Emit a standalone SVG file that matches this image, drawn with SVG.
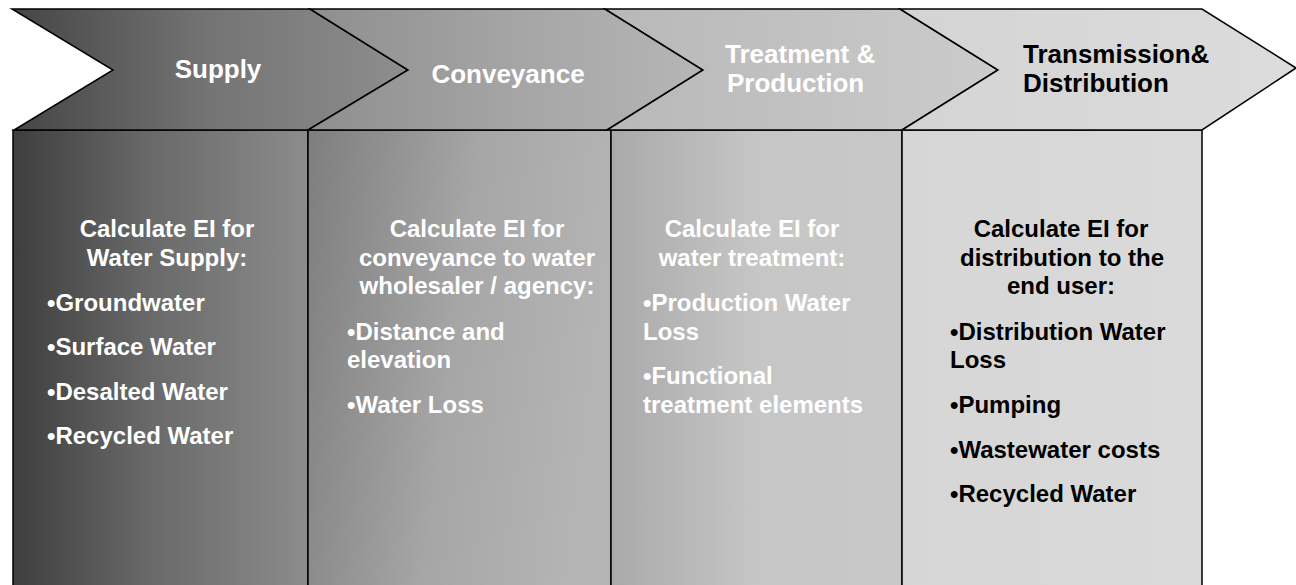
<svg xmlns="http://www.w3.org/2000/svg" width="1296" height="585" viewBox="0 0 1296 585">
  <defs>
    <linearGradient id="gc1" x1="0" y1="0" x2="1" y2="0">
      <stop offset="0" stop-color="#3e3e3e"/>
      <stop offset="0.45" stop-color="#686868"/>
      <stop offset="1" stop-color="#8c8c8c"/>
    </linearGradient>
    <linearGradient id="gc2" x1="0" y1="0" x2="1" y2="0.2">
      <stop offset="0" stop-color="#7e7e7e"/>
      <stop offset="0.55" stop-color="#a6a6a6"/>
      <stop offset="1" stop-color="#b4b4b4"/>
    </linearGradient>
    <linearGradient id="gc3" x1="0" y1="0" x2="1" y2="0">
      <stop offset="0" stop-color="#a9a9a9"/>
      <stop offset="0.5" stop-color="#c6c6c6"/>
      <stop offset="1" stop-color="#c8c8c8"/>
    </linearGradient>
    <linearGradient id="gc4" x1="0" y1="0" x2="1" y2="0">
      <stop offset="0" stop-color="#d6d6d6"/>
      <stop offset="1" stop-color="#dadada"/>
    </linearGradient>
    <linearGradient id="gh1" x1="0" y1="0" x2="1" y2="0">
      <stop offset="0" stop-color="#454545"/>
      <stop offset="0.5" stop-color="#747474"/>
      <stop offset="1" stop-color="#8e8e8e"/>
    </linearGradient>
    <linearGradient id="gh2" x1="0" y1="0" x2="1" y2="0">
      <stop offset="0" stop-color="#8e8e8e"/>
      <stop offset="0.5" stop-color="#a4a4a4"/>
      <stop offset="1" stop-color="#b6b6b6"/>
    </linearGradient>
    <linearGradient id="gh3" x1="0" y1="0" x2="1" y2="0">
      <stop offset="0" stop-color="#b8b8b8"/>
      <stop offset="1" stop-color="#cbcbcb"/>
    </linearGradient>
    <linearGradient id="gh4" x1="0" y1="0" x2="1" y2="0">
      <stop offset="0" stop-color="#d4d4d4"/>
      <stop offset="1" stop-color="#dcdcdc"/>
    </linearGradient>
  </defs>
  <style>
    .shape { stroke: #000; stroke-width: 1.5; stroke-linejoin: miter; }
    .t { font-family: "Liberation Sans", Arial, Helvetica, sans-serif; font-weight: bold; }
    .head { font-size: 26px; }
    .body { font-size: 24px; }
    .w { fill: #ffffff; }
    .k { fill: #000000; }
    .c { text-anchor: middle; }
  </style>
  <rect width="1296" height="585" fill="#ffffff"/>

  <!-- columns -->
  <g id="col-supply">
    <rect class="shape" x="13" y="130" width="295" height="470" fill="url(#gc1)"/>
    <text class="t body w c" x="167" y="237">Calculate EI for</text>
    <text class="t body w c" x="167" y="266">Water Supply:</text>
    <text class="t body w" x="47" y="311">•Groundwater</text>
    <text class="t body w" x="47" y="355">•Surface Water</text>
    <text class="t body w" x="47" y="399.5">•Desalted Water</text>
    <text class="t body w" x="47" y="444">•Recycled Water</text>
  </g>
  <g id="col-conveyance">
    <rect class="shape" x="308" y="130" width="303" height="470" fill="url(#gc2)"/>
    <text class="t body w c" x="477" y="237">Calculate EI for</text>
    <text class="t body w c" x="477" y="265.7">conveyance to water</text>
    <text class="t body w c" x="477" y="294.4">wholesaler / agency:</text>
    <text class="t body w" x="347" y="339.5">•Distance and</text>
    <text class="t body w" x="347" y="368">elevation</text>
    <text class="t body w" x="347" y="413">•Water Loss</text>
  </g>
  <g id="col-treatment">
    <rect class="shape" x="611" y="130" width="291" height="470" fill="url(#gc3)"/>
    <text class="t body w c" x="752" y="237">Calculate EI for</text>
    <text class="t body w c" x="752" y="265.7">water treatment:</text>
    <text class="t body w" x="643" y="311">•Production Water</text>
    <text class="t body w" x="643" y="339.5">Loss</text>
    <text class="t body w" x="643" y="384">•Functional</text>
    <text class="t body w" x="643" y="413">treatment elements</text>
  </g>
  <g id="col-distribution">
    <rect class="shape" x="902" y="130" width="300" height="470" fill="url(#gc4)"/>
    <text class="t body k c" x="1061" y="237">Calculate EI for</text>
    <text class="t body k c" x="1062" y="266">distribution to the</text>
    <text class="t body k c" x="1061" y="294.4">end user:</text>
    <text class="t body k" x="950" y="339.5">•Distribution Water</text>
    <text class="t body k" x="950" y="368">Loss</text>
    <text class="t body k" x="950" y="413">•Pumping</text>
    <text class="t body k" x="950" y="457.5">•Wastewater costs</text>
    <text class="t body k" x="950" y="502">•Recycled Water</text>
  </g>

  <!-- chevrons -->
  <g id="chev-supply">
    <polygon class="shape" points="12,9 310,9 408,70 308,130 14,130 113,70" fill="url(#gh1)"/>
    <text class="t head w c" x="218" y="78">Supply</text>
  </g>
  <g id="chev-conveyance">
    <polygon class="shape" points="310,9 605,9 703,70 607,130 308,130 408,70" fill="url(#gh2)"/>
    <text class="t head w c" x="508" y="83">Conveyance</text>
  </g>
  <g id="chev-treatment">
    <polygon class="shape" points="605,9 900,9 998,70 902,130 607,130 703,70" fill="url(#gh3)"/>
    <text class="t head w" x="725" y="63">Treatment &amp;</text>
    <text class="t head w" x="727" y="92">Production</text>
  </g>
  <g id="chev-distribution">
    <polygon class="shape" points="900,9 1202,9 1296,68 1202,130 902,130 998,70" fill="url(#gh4)"/>
    <text class="t head k" x="1023" y="63">Transmission&amp;</text>
    <text class="t head k" x="1023" y="92">Distribution</text>
  </g>

  <g id="connectors"/>
</svg>
